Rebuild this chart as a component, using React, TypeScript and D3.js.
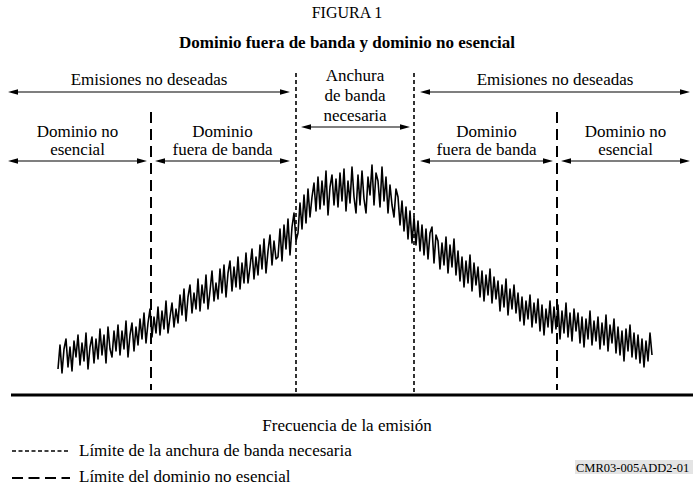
import React from "react";
import * as d3 from "d3";

// Emission level (arbitrary units) sampled across the frequency axis
const spectrum: number[] = [
  26, 50, 22, 46, 56, 28, 48, 24, 54, 38,
  60, 30, 52, 34, 62, 26, 48, 58, 32, 56,
  36, 66, 40, 60, 32, 68, 46, 38, 64, 44,
  70, 40, 64, 46, 74, 38, 60, 72, 44, 68,
  50, 76, 56, 82, 52, 72, 86, 58, 78, 62,
  88, 60, 84, 66, 94, 62, 78, 92, 68, 86,
  72, 100, 80, 106, 74, 98, 110, 82, 102, 86,
  116, 84, 110, 92, 120, 86, 104, 124, 94, 112,
  96, 126, 102, 130, 98, 122, 134, 104, 128, 108,
  138, 106, 132, 112, 142, 112, 128, 146, 116, 138,
  120, 150, 126, 156, 122, 144, 160, 130, 154, 136,
  138, 166, 134, 170, 146, 176, 140, 168, 182, 154,
  162, 192, 166, 200, 172, 206, 178, 198, 212, 184,
  218, 186, 214, 190, 224, 180, 208, 220, 190, 216,
  188, 222, 194, 226, 184, 214, 192, 228, 198, 182,
  220, 190, 224, 196, 182, 218, 200, 230, 190, 222,
  214, 188, 228, 194, 218, 182, 210, 190, 178, 206,
  198, 170, 194, 164, 188, 156, 184, 152, 178, 150,
  174, 144, 170, 140, 166, 136, 162, 168, 132, 160,
  154, 126, 152, 130, 158, 122, 150, 128, 156, 120,
  144, 114, 138, 108, 134, 112, 140, 104, 132, 110,
  128, 98, 124, 94, 120, 100, 126, 92, 118, 96,
  114, 84, 110, 88, 116, 80, 106, 86, 110, 82,
  102, 74, 98, 70, 94, 76, 100, 68, 92, 72,
  96, 64, 90, 60, 86, 68, 94, 62, 88, 66,
  90, 56, 84, 62, 92, 58, 82, 54, 86, 64,
  82, 52, 78, 48, 76, 56, 84, 50, 74, 54,
  78, 46, 72, 50, 80, 44, 70, 52, 76, 42,
  68, 40, 64, 34, 66, 44, 70, 38, 62, 36,
  60, 32, 56, 28, 54, 34, 62, 40,
];

// Boundaries on the frequency axis (sample index units)
const spuriousBounds: number[] = [46.5, 249.5];
const necessaryBounds: number[] = [119, 178];

const title = "FIGURA 1";
const subtitle = "Dominio fuera de banda y dominio no esencial";
const xLabel = "Frecuencia de la emisión";
const legendLabels: string[] = [
  "Límite de la anchura de banda necesaria",
  "Límite del dominio no esencial",
];
const docRef = "CMR03-005ADD2-01";

const W = 693;
const H = 487;
const FONT = "'Liberation Serif', 'Times New Roman', serif";

function Arrow({ x1, x2, y }: { x1: number; x2: number; y: number }) {
  const L = 10;
  const h = 2.8;
  return (
    <g>
      <line x1={x1 + 4} x2={x2 - 4} y1={y} y2={y} stroke="#000" strokeWidth={1.1} />
      <polygon points={`${x1},${y} ${x1 + L},${y - h} ${x1 + L},${y + h}`} fill="#000" />
      <polygon points={`${x2},${y} ${x2 - L},${y - h} ${x2 - L},${y + h}`} fill="#000" />
    </g>
  );
}

export default function App() {
  const x = d3.scaleLinear().domain([0, spectrum.length - 1]).range([58, 652]);
  const y = d3.scaleLinear().domain([0, 240]).range([395, 155]);
  const line = d3
    .line<number>()
    .x((_, i) => x(i))
    .y((d) => y(d));

  const [sL, sR] = spuriousBounds.map((b) => x(b));
  const [nL, nR] = necessaryBounds.map((b) => x(b));
  const leftEdge = 8;
  const rightEdge = 690;
  const baseY = 395;

  const txt = {
    fontFamily: FONT,
    fontSize: 17,
    fill: "#000",
    textAnchor: "middle" as const,
  };

  return (
    <svg width={W} height={H} style={{ display: "block", position: "absolute", left: 0, top: 0 }}>
      <rect width={W} height={H} fill="#fff" />
      <text x={347} y={18} {...txt} fontSize={16}>
        {title}
      </text>
      <text x={347} y={48} {...txt} fontSize={17} fontWeight="bold">
        {subtitle}
      </text>

      {/* Top row: unwanted emissions */}
      <text x={(leftEdge + nL - 6) / 2} y={85} {...txt}>
        Emisiones no deseadas
      </text>
      <Arrow x1={leftEdge} x2={nL - 6} y={92} />
      <text x={(nR + 6 + rightEdge) / 2} y={85} {...txt}>
        Emisiones no deseadas
      </text>
      <Arrow x1={nR + 6} x2={rightEdge} y={92} />

      {/* Necessary bandwidth */}
      <text x={(nL + nR) / 2} y={81} {...txt}>Anchura</text>
      <text x={(nL + nR) / 2} y={101} {...txt}>de banda</text>
      <text x={(nL + nR) / 2} y={121} {...txt}>necesaria</text>
      <Arrow x1={nL + 5} x2={nR - 4} y={127} />

      {/* Second row */}
      <text x={(leftEdge + sL - 4) / 2} y={137} {...txt}>Dominio no</text>
      <text x={(leftEdge + sL - 4) / 2} y={155} {...txt}>esencial</text>
      <Arrow x1={leftEdge} x2={sL - 4} y={161} />
      <text x={(sL + 4 + nL - 6) / 2} y={137} {...txt}>Dominio</text>
      <text x={(sL + 4 + nL - 6) / 2} y={155} {...txt}>fuera de banda</text>
      <Arrow x1={sL + 4} x2={nL - 6} y={161} />
      <text x={(nR + 6 + sR - 4) / 2} y={137} {...txt}>Dominio</text>
      <text x={(nR + 6 + sR - 4) / 2} y={155} {...txt}>fuera de banda</text>
      <Arrow x1={nR + 6} x2={sR - 4} y={161} />
      <text x={(sR + 4 + rightEdge) / 2} y={137} {...txt}>Dominio no</text>
      <text x={(sR + 4 + rightEdge) / 2} y={155} {...txt}>esencial</text>
      <Arrow x1={sR + 4} x2={rightEdge} y={161} />

      {/* Boundaries */}
      {[nL, nR].map((bx, i) => (
        <line key={"n" + i} x1={bx} x2={bx} y1={73} y2={392} stroke="#000" strokeWidth={1.6} strokeDasharray="4 3" />
      ))}
      {[sL, sR].map((bx, i) => (
        <line key={"s" + i} x1={bx} x2={bx} y1={112} y2={390} stroke="#000" strokeWidth={2} strokeDasharray="11 6" />
      ))}

      {/* Spectrum */}
      <path d={line(spectrum) || ""} fill="none" stroke="#000" strokeWidth={1.6} strokeLinejoin="round" />

      {/* Frequency axis */}
      <line x1={11} x2={W} y1={baseY} y2={baseY} stroke="#000" strokeWidth={3} />
      <text x={347} y={431} {...txt}>
        {xLabel}
      </text>

      {/* Legend */}
      <line x1={12} x2={70} y1={451} y2={451} stroke="#000" strokeWidth={1.6} strokeDasharray="4 2.5" />
      <text x={79} y={456} {...txt} textAnchor="start">
        {legendLabels[0]}
      </text>
      <line x1={12} x2={70} y1={478} y2={478} stroke="#000" strokeWidth={2} strokeDasharray="11 5.5" />
      <text x={79} y={482} {...txt} textAnchor="start">
        {legendLabels[1]}
      </text>

      <rect x={575} y={460} width={118} height={14} fill="#e4e4e4" />
      <text x={576} y={472} fontFamily={FONT} fontSize={12.5} fill="#000">
        {docRef}
      </text>
    </svg>
  );
}
